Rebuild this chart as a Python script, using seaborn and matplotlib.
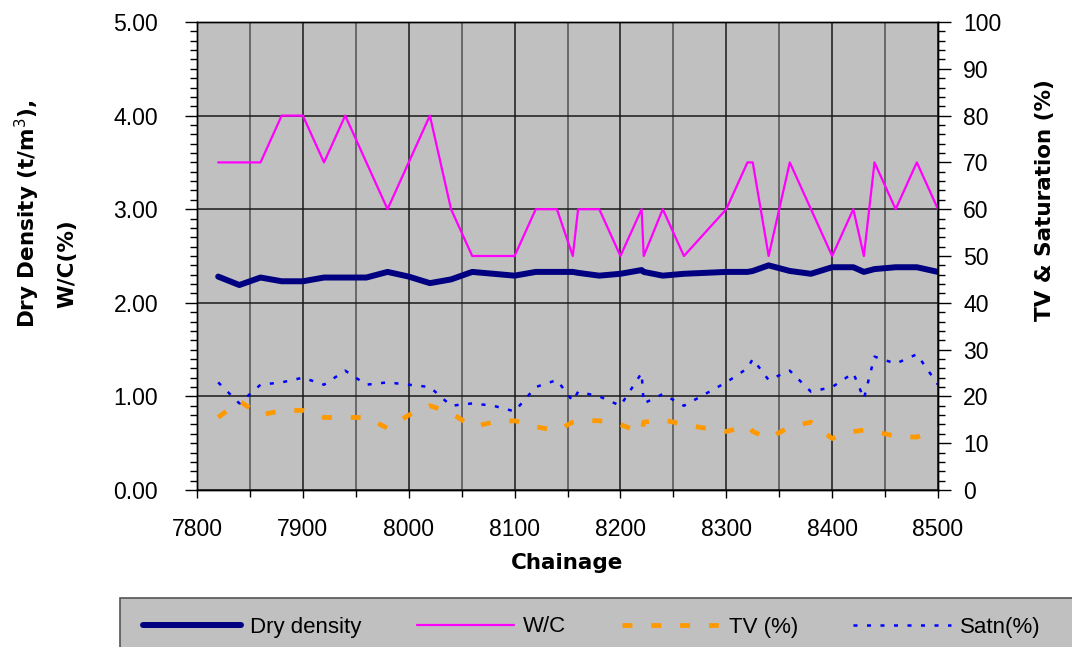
import numpy as np
import pandas as pd
import seaborn as sns
import matplotlib.pyplot as plt
from matplotlib.patches import Rectangle
from matplotlib.ticker import MultipleLocator, FormatStrFormatter

sns.set_style("ticks")
plt.rcParams['font.family'] = ['Liberation Sans', 'DejaVu Sans']
plt.rcParams['text.color'] = 'black'
plt.rcParams['axes.labelcolor'] = 'black'
plt.rcParams['xtick.color'] = 'black'
plt.rcParams['ytick.color'] = 'black'

# chainage of each test point
chainage = [7820, 7840, 7860, 7880, 7900, 7920, 7940, 7960, 7980, 8000,
            8020, 8040, 8060, 8080, 8100, 8120, 8140, 8155, 8160, 8180,
            8200, 8220, 8222, 8240, 8260, 8280, 8300, 8320, 8325, 8340,
            8360, 8380, 8400, 8420, 8430, 8440, 8460, 8480, 8500]

dry_density = [2.28, 2.19, 2.27, 2.23, 2.23, 2.27, 2.27, 2.27, 2.33, 2.28,
               2.21, 2.25, 2.33, 2.31, 2.29, 2.33, 2.33, 2.33, 2.32, 2.29,
               2.31, 2.35, 2.33, 2.29, 2.31, 2.32, 2.33, 2.33, 2.34, 2.40,
               2.34, 2.31, 2.38, 2.38, 2.33, 2.36, 2.38, 2.38, 2.33]

wc = [3.5, 3.5, 3.5, 4.0, 4.0, 3.5, 4.0, 3.5, 3.0, 3.5,
      4.0, 3.0, 2.5, 2.5, 2.5, 3.0, 3.0, 2.5, 3.0, 3.0,
      2.5, 3.0, 2.5, 3.0, 2.5, 2.75, 3.0, 3.5, 3.5, 2.5,
      3.5, 3.0, 2.5, 3.0, 2.5, 3.5, 3.0, 3.5, 3.0]

tv = [15.5, 19.0, 16.0, 17.0, 17.0, 15.5, 15.5, 15.5, 13.2, 16.0,
      18.0, 16.5, 13.5, 14.5, 14.8, 13.5, 12.7, 14.5, 14.8, 14.8,
      14.0, 12.2, 14.5, 15.0, 14.0, 13.2, 12.5, 13.7, 12.5, 11.0,
      13.5, 14.5, 11.0, 12.5, 12.8, 12.5, 11.5, 11.3, 13.0]

satn = [23.0, 18.5, 22.5, 23.0, 24.0, 22.5, 25.5, 22.5, 23.0, 22.5,
        22.0, 18.0, 18.5, 18.0, 16.8, 22.0, 23.5, 19.0, 21.0, 20.0,
        18.0, 25.0, 18.5, 20.5, 18.0, 20.5, 23.0, 26.0, 28.0, 23.5,
        25.5, 21.0, 22.0, 25.0, 19.5, 28.5, 27.0, 29.0, 22.5]

df = pd.DataFrame({'Chainage': chainage, 'Dry density': dry_density,
                   'W/C': wc, 'TV (%)': tv, 'Satn(%)': satn})

W, H = 1072, 647
fig = plt.figure(figsize=(W / 100, H / 100), dpi=100)
ax = fig.add_axes([197 / W, 1 - 490 / H, 741 / W, 468 / H])
ax.set_facecolor('#C0C0C0')
ax2 = ax.twinx()

sns.lineplot(data=df, x='Chainage', y='Dry density', ax=ax, color='#000080',
             lw=4.3, estimator=None, sort=False, label='Dry density')
sns.lineplot(data=df, x='Chainage', y='W/C', ax=ax, color='#FF00FF',
             lw=1.6, estimator=None, sort=False, label='W/C')
sns.lineplot(data=df, x='Chainage', y='TV (%)', ax=ax2, color='#FF9900',
             lw=3.4, linestyle=(0, (2.1, 4.0)), dash_capstyle='butt',
             estimator=None, sort=False, label='TV (%)')
sns.lineplot(data=df, x='Chainage', y='Satn(%)', ax=ax2, color='#0000FF',
             lw=1.8, linestyle=(0, (1.6, 3.8)), dash_capstyle='butt',
             estimator=None, sort=False, label='Satn(%)')

# axes and ticks
ax.set_xlim(7800, 8500)
ax.set_ylim(0, 5)
ax2.set_ylim(0, 100)
ax.xaxis.set_major_locator(MultipleLocator(100))
ax.xaxis.set_minor_locator(MultipleLocator(50))
ax.yaxis.set_major_locator(MultipleLocator(1))
ax.yaxis.set_minor_locator(MultipleLocator(0.1))
ax.yaxis.set_major_formatter(FormatStrFormatter('%.2f'))
ax2.yaxis.set_major_locator(MultipleLocator(10))
ax2.yaxis.set_minor_locator(MultipleLocator(2))

ax.grid(True, which='major', axis='both', color='#1a1a1a', lw=1.1)
ax.grid(True, which='minor', axis='x', color='#505050', lw=1.1)
ax.set_axisbelow(True)

for a in (ax, ax2):
    a.tick_params(which='major', direction='out', length=9, width=1,
                  color='black', labelcolor='black', labelsize=16.6)
    a.tick_params(which='minor', direction='out', length=5, width=1,
                  color='black')
    for s in a.spines.values():
        s.set_color('black')
        s.set_linewidth(1)
ax.tick_params(axis='y', which='major', pad=19)
ax2.tick_params(axis='y', which='major', pad=9)
ax.tick_params(axis='x', which='major', length=6, pad=14)

lab = dict(fontsize=15.5, fontweight='bold', family='DejaVu Sans',
           color='black')
ax.set_xlabel('Chainage', labelpad=9, **lab)
ax.set_ylabel('')
ax2.set_ylabel('')
fig.text(27 / W, 1 - 214 / H, 'Dry Density (t/m$^3$),', rotation=90,
         ha='center', va='center', **lab)
fig.text(67 / W, 1 - 264 / H, 'W/C(%)', rotation=90,
         ha='center', va='center', **lab)
fig.text(1045 / W, 1 - 200 / H, 'TV & Saturation (%)', rotation=90,
         ha='center', va='center', **lab)

# legend box along the bottom, running off the page edges
fig.patches.append(Rectangle((120 / W, -0.05), 1.0, (H - 598) / H + 0.05,
                             transform=fig.transFigure, facecolor='#C0C0C0',
                             edgecolor='#555555', lw=1.2, zorder=0))
handles, labels = [], []
for a in (ax, ax2):
    h, l = a.get_legend_handles_labels()
    handles += h
    labels += l
    if a.get_legend() is not None:
        a.get_legend().remove()
leg = fig.legend(handles, labels, loc='center left', ncol=4,
                 bbox_to_anchor=(143 / W, 1 - 627 / H),
                 fontsize=16, handlelength=4.4, handletextpad=0.4,
                 columnspacing=2.5, frameon=False, borderpad=0,
                 borderaxespad=0, labelcolor='black')

fig.savefig('out.png', dpi=100)
